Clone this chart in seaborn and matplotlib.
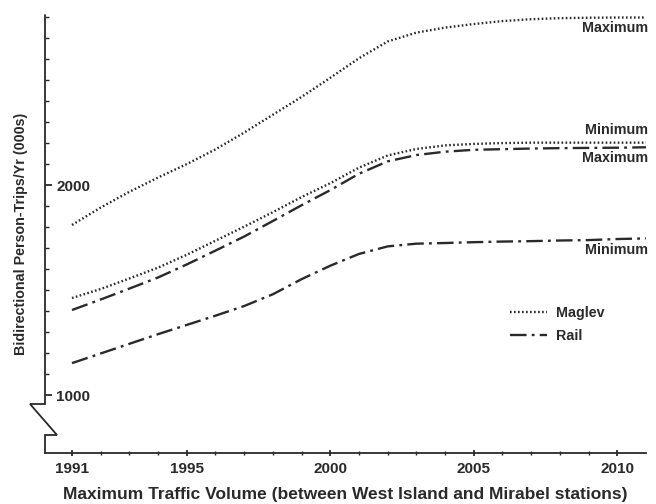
import numpy as np
import pandas as pd
import matplotlib
matplotlib.use('Agg')
import matplotlib.pyplot as plt
import seaborn as sns
from matplotlib.lines import Line2D

# data (000s of bidirectional person-trips per year)
years = list(range(1991, 2012))
maglev_max = [1810, 1893, 1968, 2036, 2100, 2170, 2250, 2335, 2420, 2511, 2604,
              2684, 2726, 2750, 2767, 2781, 2790, 2795, 2797, 2798, 2798]
maglev_min = [1462, 1505, 1555, 1607, 1668, 1735, 1802, 1871, 1943, 2009, 2083,
              2141, 2172, 2189, 2196, 2200, 2202, 2202, 2202, 2202, 2202]
rail_max = [1405, 1455, 1507, 1560, 1622, 1688, 1755, 1829, 1904, 1976, 2054,
            2113, 2143, 2159, 2168, 2171, 2174, 2176, 2177, 2178, 2180]
rail_min = [1152, 1198, 1244, 1290, 1334, 1378, 1424, 1480, 1552, 1616, 1672,
            1708, 1721, 1724, 1728, 1731, 1733, 1736, 1738, 1743, 1746]

x_ticklabels = [1991, 1995, 2000, 2005, 2010]
y_ticklabels = [1000, 2000]

sns.set_style("ticks")
plt.rcParams['font.family'] = ['Liberation Sans', 'DejaVu Sans']
plt.rcParams['font.weight'] = 'bold'

ink = "#2a2a2a"
dotted = (0, (0.7, 1.0))
dashdot = (0, (7, 2.2, 1.2, 2.2))

df = pd.concat([
    pd.DataFrame({"year": years, "trips": maglev_max, "series": "maglev_max"}),
    pd.DataFrame({"year": years, "trips": maglev_min, "series": "maglev_min"}),
    pd.DataFrame({"year": years, "trips": rail_max, "series": "rail_max"}),
    pd.DataFrame({"year": years, "trips": rail_min, "series": "rail_min"}),
])

fig = plt.figure(figsize=(6.56, 5.04), dpi=100)
ax = fig.add_axes([45 / 656, 1 - 453 / 504, 601 / 656, 438 / 504])

styles = {
    "maglev_max": dotted,
    "maglev_min": dotted,
    "rail_max": dashdot,
    "rail_min": dashdot,
}
for name, ls in styles.items():
    sub = df[df["series"] == name]
    sns.lineplot(data=sub, x="year", y="trips", ax=ax, color=ink,
                 linewidth=1.7, linestyle=ls, legend=False)

# curve end labels
end_labels = [
    ("maglev_max", "Maximum", -10),
    ("maglev_min", "Minimum", 13),
    ("rail_max", "Maximum", -11),
    ("rail_min", "Minimum", -12),
]
for name, text, dy in end_labels:
    last = df[df["series"] == name].iloc[-1]
    ax.annotate(text, xy=(last["year"], last["trips"]), xytext=(2, dy),
                textcoords="offset pixels", ha="right", va="center",
                fontsize=10.3, fontweight="bold", color=ink,
                annotation_clip=False)

ax.set_xlim(1990.06, 2011.0)
ax.set_ylim(724, 2810)

# x axis ticks
ax.set_xticks(x_ticklabels)
ax.set_xticklabels([str(v) for v in x_ticklabels])
ax.set_xticks(years[:-1], minor=True)
ax.tick_params(axis="x", which="major", direction="inout", length=5, width=1.3,
               labelsize=11, pad=4, colors=ink)
ax.tick_params(axis="x", which="minor", direction="inout", length=3, width=1)

# y axis ticks, labels sit inside the axis line
ax.set_yticks(y_ticklabels)
ax.set_yticklabels([str(v) for v in y_ticklabels])
ax.set_yticks(list(range(1000, 2900, 100)), minor=True)
ax.tick_params(axis="y", which="major", direction="in", length=5, width=1.3,
               labelsize=11, pad=-8, colors=ink)
ax.tick_params(axis="y", which="minor", direction="in", length=3, width=1)
for lab in ax.get_yticklabels():
    lab.set_horizontalalignment("left")
for lab in ax.get_xticklabels() + ax.get_yticklabels():
    lab.set_fontweight("bold")

sns.despine(ax=ax, top=True, right=True, left=True)
ax.spines["bottom"].set_linewidth(1.3)
ax.spines["bottom"].set_color(ink)

# left axis line with the broken-scale zigzag
y_top_break = (453 - 404) / 438
y_low_break = (453 - 435) / 438
bx = [0, 0, -15 / 601, 12 / 601, 0, 0]
by = [1, y_top_break, y_top_break, y_low_break, y_low_break, 0]
ax.add_line(Line2D(bx, by, transform=ax.transAxes, color=ink, lw=1.3,
                   clip_on=False, solid_joinstyle="miter"))

ax.set_xlabel("Maximum Traffic Volume (between West Island and Mirabel stations)",
              fontsize=12.5, fontweight="bold", color=ink, labelpad=8)
ax.set_ylabel("Bidirectional Person-Trips/Yr (000s)", fontsize=10.3,
              fontweight="bold", color=ink, labelpad=9)

handles = [
    Line2D([], [], color=ink, lw=1.7, linestyle=dotted),
    Line2D([], [], color=ink, lw=1.7, linestyle=dashdot),
]
leg = ax.legend(handles, ["Maglev", "Rail"], loc="upper left",
                bbox_to_anchor=(0.752, 0.365), frameon=False, fontsize=10.3,
                handlelength=2.6, handletextpad=0.6, labelspacing=0.6)
for t in leg.get_texts():
    t.set_fontweight("bold")
    t.set_color(ink)

fig.savefig("out.png", dpi=100)
plt.close("all")
